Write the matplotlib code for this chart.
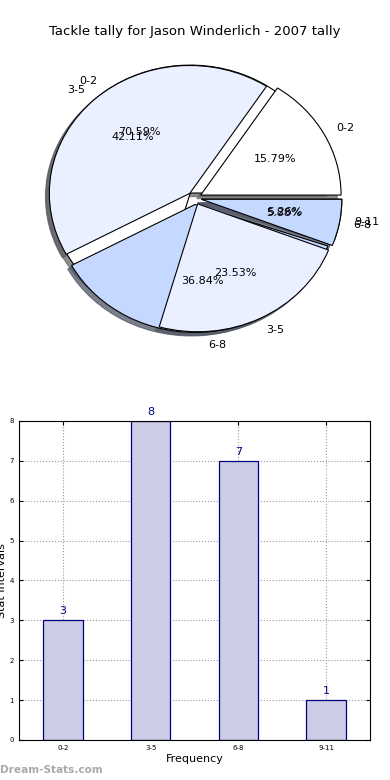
import matplotlib
matplotlib.use('Agg')
import matplotlib.pyplot as plt
import matplotlib.patches as mpatches
import numpy as np

# data
intervals = ['0-2', '3-5', '6-8', '9-11']
tackles = [3, 8, 7, 1]
# second (overlaid) pie as it appears on the page
pie2_labels = ['0-2', '3-5', '6-8']
pie2_values = [12, 4, 1]

title = 'Tackle tally for Jason Winderlich - 2007 tally'

WHITE = '#FFFFFF'
LIGHT = '#EAF0FF'
MEDIUM = '#C5D8FF'

################################################
def addPie(axis):
    shadow = dict(alpha=0.75, shade=0.6)
    wB, tB, pB = axis.pie(pie2_values, labels=pie2_labels, colors=[WHITE, LIGHT, MEDIUM],
                          explode=[0.05] * len(pie2_values), autopct='%1.2f%%', shadow=shadow,
                          wedgeprops=dict(edgecolor='black', linewidth=0.8),
                          textprops=dict(fontsize=8))
    wA, tA, pA = axis.pie(tackles, labels=intervals, colors=[WHITE, LIGHT, MEDIUM, MEDIUM],
                          explode=[0.05] * len(tackles), autopct='%1.2f%%', shadow=shadow,
                          wedgeprops=dict(edgecolor='black', linewidth=0.8),
                          textprops=dict(fontsize=8))
    # stacking as seen on the page: shadows at the bottom
    for p in axis.patches:
        if isinstance(p, mpatches.Shadow):
            p.set_zorder(0.5)
    wB[0].set_zorder(0.95)
    for w in wB[1:]:
        w.set_zorder(1.1)
    axis.set_aspect('auto')
    axis.set_xlim(-1.25, 1.25)
    axis.set_ylim(-1.25, 1.25)
    axis.set_title(title, fontsize=9.5, pad=2.5)

################################################
def addBars(axis):
    x = np.arange(len(intervals))
    axis.bar(x, tackles, width=0.45, color='#CCCCE5', edgecolor='#000080', linewidth=0.9, zorder=2)
    for xi, v in zip(x, tackles):
        axis.text(xi, v + 0.1, str(v), ha='center', va='bottom', color='#000080', fontsize=8)
    axis.set_xlim(-0.5, 3.5)
    axis.set_ylim(0, 8)
    axis.set_xticks(x)
    axis.set_xticklabels(intervals)
    axis.set_yticks(range(0, 9))
    axis.tick_params(labelsize=5, direction='in', top=True, right=True, length=3)
    axis.grid(True, linestyle=':', color='#999999', linewidth=0.8, zorder=0)
    axis.set_axisbelow(True)
    axis.set_xlabel('Frequency', fontsize=8, labelpad=2)
    axis.set_ylabel('Stat Intervals', fontsize=8, labelpad=2)

################################################
def makePlots():
    fig = plt.figure(figsize=(3.9, 7.8), dpi=100)
    ax1 = fig.add_axes([0.0487, 0.541, 0.9, 0.41])
    addPie(ax1)
    ax2 = fig.add_axes([0.0487, 0.0513, 0.9, 0.409])
    addBars(ax2)
    fig.text(0.0, 0.006, 'Dream-Stats.com', color='#AAAAAA', fontsize=7.6,
             fontweight='bold', ha='left', va='bottom')
    fig.savefig('out.png', dpi=100)

if __name__ == '__main__':
    makePlots()
